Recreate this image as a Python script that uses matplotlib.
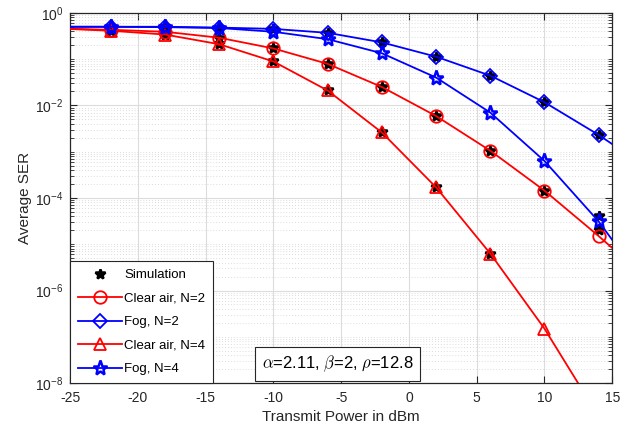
import numpy as np
import matplotlib.pyplot as plt
from matplotlib.ticker import LogLocator, NullFormatter, FixedLocator

plt.rcParams['font.family'] = ['Liberation Sans', 'DejaVu Sans']
plt.rcParams['mathtext.fontset'] = 'cm'
plt.rcParams['axes.unicode_minus'] = False

# theory curves, evaluated every 4 dB (end points fall outside the axes)
power = [-26, -22, -18, -14, -10, -6, -2, 2, 6, 10, 14, 18]
clear_n2 = [0.46, 0.43, 0.39, 0.29, 0.17, 0.079, 0.025, 5.9e-3, 1.05e-3, 1.44e-4, 1.5e-5, 1.4e-6]
fog_n2 = [0.50, 0.50, 0.50, 0.48, 0.45, 0.37, 0.23, 0.113, 0.044, 0.0117, 2.3e-3, 3.7e-4]
clear_n4 = [0.46, 0.41, 0.34, 0.21, 0.089, 0.021, 2.6e-3, 1.7e-4, 6.3e-6, 1.5e-7, 1.9e-9, 1.6e-11]
fog_n4 = [0.50, 0.50, 0.49, 0.47, 0.39, 0.27, 0.134, 0.040, 7.0e-3, 6.3e-4, 3.1e-5, 8e-7]

# simulation points
sim_x = [-22, -18, -14, -10, -6, -2, 2, 6, 10, 14,
         -22, -18, -14, -10, -6, -2, 2, 6, 10, 14,
         -22, -18, -14, -10, -6, -2, 2, 6,
         14]
sim_y = [0.43, 0.39, 0.29, 0.17, 0.079, 0.025, 5.9e-3, 1.05e-3, 1.44e-4, 2.0e-5,
         0.50, 0.50, 0.48, 0.45, 0.37, 0.23, 0.113, 0.044, 0.0117, 2.3e-3,
         0.41, 0.34, 0.21, 0.089, 0.021, 2.6e-3, 1.7e-4, 6.3e-6,
         4.1e-5]

fig = plt.figure(figsize=(6.26, 4.28), dpi=100)
ax = fig.add_axes([0.112, 0.105, 0.866, 0.865])

lw = 1.3
ms = 9
ax.plot(sim_x, sim_y, linestyle='none', marker='*', color='k', markersize=7,
        markeredgewidth=1.8, label='Simulation', zorder=3)
ax.plot(power, clear_n2, color='red', lw=lw, marker='o', markersize=ms,
        markerfacecolor='none', markeredgewidth=lw, label='Clear air, N=2', zorder=4)
ax.plot(power, fog_n2, color='blue', lw=lw, marker='D', markersize=ms - 1.5,
        markerfacecolor='none', markeredgewidth=lw, label='Fog, N=2', zorder=4)
ax.plot(power, clear_n4, color='red', lw=lw, marker='^', markersize=ms,
        markerfacecolor='none', markeredgewidth=lw, label='Clear air, N=4', zorder=4)
ax.plot(power, fog_n4, color='blue', lw=lw, marker='*', markersize=ms + 2,
        markerfacecolor='none', markeredgewidth=1.8, label='Fog, N=4', zorder=5)

ax.set_xlim(-25, 15)
ax.set_yscale('log')
ax.set_ylim(1e-8, 1)
ax.set_xticks(range(-25, 16, 5))
ax.yaxis.set_major_locator(FixedLocator([1e-8, 1e-6, 1e-4, 1e-2, 1]))
ax.yaxis.set_minor_locator(LogLocator(base=10, subs=np.arange(1, 10), numticks=20))
ax.yaxis.set_minor_formatter(NullFormatter())

ax.grid(True, which='major', color='#dcdcdc', lw=0.8, linestyle='-')
ax.grid(True, which='minor', axis='y', color='#d2d2d2', lw=0.6, linestyle=(0, (1, 2.5)))
ax.set_axisbelow(True)

for s in ax.spines.values():
    s.set_color('#262626')
    s.set_linewidth(0.9)
ax.tick_params(which='both', direction='in', top=True, right=True, colors='#262626',
               labelsize=10, labelcolor='#262626')
ax.tick_params(which='major', length=5)
ax.tick_params(axis='x', pad=6)
ax.tick_params(axis='y', pad=5)
ax.tick_params(which='minor', length=3)

ax.set_xlabel('Transmit Power in dBm', fontsize=11, color='#262626', labelpad=3)
ax.set_ylabel('Average SER', fontsize=11, color='#262626', labelpad=2)

leg = ax.legend(loc='lower left', bbox_to_anchor=(0, 0), fontsize=9.5, fancybox=False,
                framealpha=1, edgecolor='#262626', handlelength=3.3,
                borderaxespad=0, borderpad=0.6, labelspacing=0.85, handletextpad=0.2)
leg.get_frame().set_linewidth(0.8)

ax.text(0.493, 0.052, r'$\alpha$=2.11, $\beta$=2, $\rho$=12.8', transform=ax.transAxes,
        ha='center', va='center', fontsize=12,
        bbox=dict(boxstyle='square,pad=0.4', facecolor='white', edgecolor='#262626', lw=0.8))

fig.savefig('out.png', dpi=100)
